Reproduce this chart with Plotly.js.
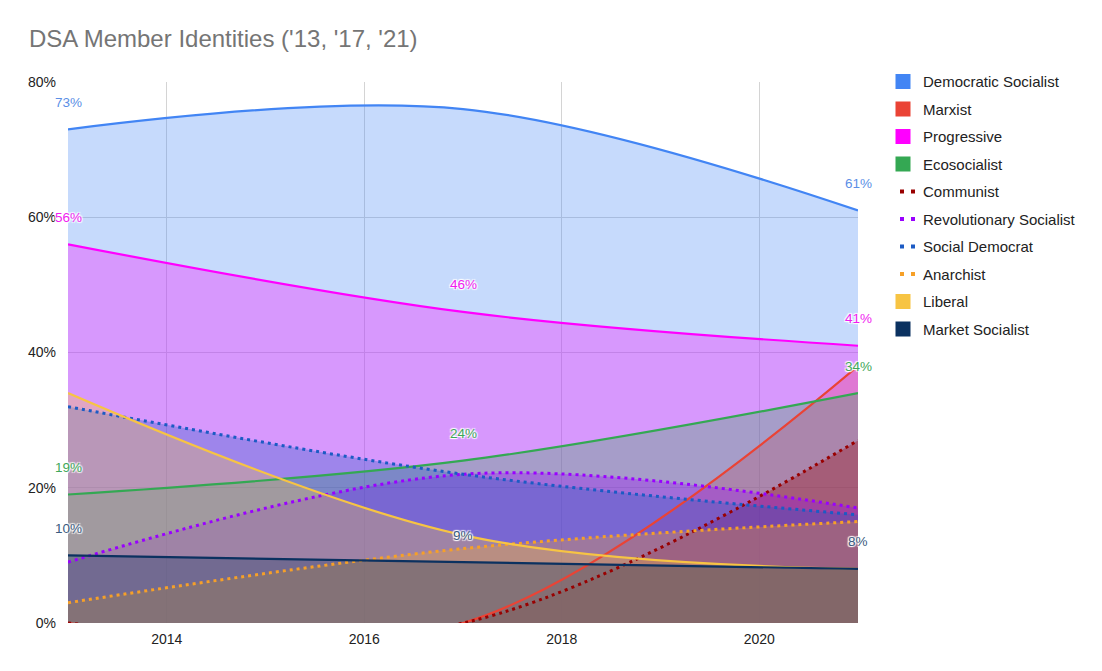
<!DOCTYPE html>
<html>
<head>
<meta charset="utf-8">
<script src="https://cdn.plot.ly/plotly-3.0.1.min.js"></script>
<style>
html,body{margin:0;padding:0;background:#fff;}
#chart{width:1102px;height:671px;}
</style>
</head>
<body>
<div id="chart"></div>
<script>
// ---- data ----
const years = [2013, 2017, 2021];
const seriesNames = ['Democratic Socialist','Marxist','Progressive','Ecosocialist','Communist',
  'Revolutionary Socialist','Social Democrat','Anarchist','Liberal','Market Socialist'];
const democraticSocialist    = [73, 76, 61];
const marxist                = [0, 0, 38];
const progressive            = [56, 46, 41];
const ecosocialist           = [19, 24, 34];
const communist              = [0, 0, 27];
const revolutionarySocialist = [9, 22, 17];
const socialDemocrat         = [32, 22, 16];
const anarchist              = [3, 11, 15];
const liberal                = [34, 13, 8];
const marketSocialist        = [10, 9, 8];
// data labels shown on the chart ('' = not shown)
const democraticSocialistLabels = ['73%', '', '61%'];
const progressiveLabels         = ['56%', '46%', '41%'];
const ecosocialistLabels        = ['19%', '24%', '34%'];
const marketSocialistLabels     = ['10%', '9%', '8%'];
const xTickVals = [2014, 2016, 2018, 2020];
const yTickVals = [0, 20, 40, 60, 80];
const yTickText = ['0%', '20%', '40%', '60%', '80%'];

// ---- styles ----
const styles = [
  {color:'#4285f4', dotted:false},
  {color:'#ea4335', dotted:false},
  {color:'#ff00ff', dotted:false},
  {color:'#34a853', dotted:false},
  {color:'#990000', dotted:true},
  {color:'#9900ff', dotted:true},
  {color:'#1c5bc4', dotted:true},
  {color:'#f6a028', dotted:true},
  {color:'#f7c443', dotted:false},
  {color:'#0b3160', dotted:false}
];
const allValues = [democraticSocialist, marxist, progressive, ecosocialist, communist,
  revolutionarySocialist, socialDemocrat, anarchist, liberal, marketSocialist];
const labelSets = [
  {idx:0, labels:democraticSocialistLabels},
  {idx:2, labels:progressiveLabels},
  {idx:3, labels:ecosocialistLabels},
  {idx:9, labels:marketSocialistLabels}
];
const labelColors = {0:'#5b8fe6', 2:'#f01cf0', 3:'#3fa85a', 9:'#3b5b80'};

function rgba(hex, a){
  const n = parseInt(hex.slice(1),16);
  return 'rgba('+((n>>16)&255)+','+((n>>8)&255)+','+(n&255)+','+a+')';
}

const traces = [];
// filled areas first
allValues.forEach((vals, i) => {
  const st = styles[i];
  traces.push({
    type:'scatter', mode:'lines', x:years, y:vals, name:seriesNames[i],
    fill:'tozeroy', fillcolor:rgba(st.color,0.3),
    line:{color:'rgba(0,0,0,0)', width:0, shape:'spline', smoothing:1},
    showlegend:false, hoverinfo:'skip'
  });
});
// lines on top of all areas
allValues.forEach((vals, i) => {
  const st = styles[i];
  traces.push({
    type:'scatter', mode:'lines', x:years, y:vals, name:seriesNames[i],
    line:{color:st.color, width: st.dotted ? 3 : 2.2, shape:'spline', smoothing:1,
          dash: st.dotted ? '3px,4px' : 'solid'},
    showlegend:false, hoverinfo:'skip'
  });
});
// legend entries
allValues.forEach((vals, i) => {
  const st = styles[i];
  if (st.dotted) {
    traces.push({type:'scatter', mode:'lines', x:[null], y:[null], name:seriesNames[i],
      legendgroup:'g'+i, line:{color:st.color, width:4, dash:'0px,12px,4px,7px,4px,30px'}});
  } else {
    traces.push({type:'scatter', mode:'markers', x:[null], y:[null], name:seriesNames[i],
      legendgroup:'g'+i, marker:{color:st.color, symbol:'square', size:15}});
  }
});

const halo = '1px 1px 1px #fff, -1px -1px 1px #fff, 1px -1px 1px #fff, -1px 1px 1px #fff';
const annotations = [];
labelSets.forEach(ls => {
  ls.labels.forEach((t, j) => {
    if (!t) return;
    annotations.push({
      x: years[j], y: allValues[ls.idx][j], xref:'x', yref:'y', yshift:27,
      text:t, showarrow:false,
      font:{family:'Liberation Sans, Arial, sans-serif', size:13.5, color:labelColors[ls.idx], shadow:halo}
    });
  });
});

const layout = {
  width:1102, height:671,
  paper_bgcolor:'#fff', plot_bgcolor:'#fff',
  margin:{l:68, r:244, t:82, b:48},
  font:{family:'Liberation Sans, Arial, sans-serif', color:'#222'},
  title:{text:"DSA Member Identities ('13, '17, '21)", xref:'container', yref:'container',
    x:29/1102, xanchor:'left', y:1-39/671, yanchor:'middle',
    font:{family:'Liberation Sans, Arial, sans-serif', size:24, color:'#757575'}},
  xaxis:{range:[2013,2021], tickmode:'array', tickvals:xTickVals, showgrid:true, gridcolor:'#d4d4d4',
    zeroline:false, showline:false, ticks:'', ticklabelstandoff:6,
    tickfont:{size:14, color:'#222'}},
  yaxis:{range:[0,80], tickmode:'array', tickvals:yTickVals, ticktext:yTickText, showgrid:true, gridcolor:'#d4d4d4',
    zeroline:false, showline:false, ticks:'', ticklabelstandoff:11,
    tickfont:{size:14, color:'#222'}},
  legend:{x:(883-68)/790, xanchor:'left', y:1.031, yanchor:'top', traceorder:'grouped',
    tracegroupgap:5, font:{size:15, color:'#222'}, bgcolor:'rgba(0,0,0,0)'},
  annotations:annotations,
  hovermode:false
};

Plotly.newPlot('chart', traces, layout, {displayModeBar:false, staticPlot:true});
</script>
</body>
</html>
